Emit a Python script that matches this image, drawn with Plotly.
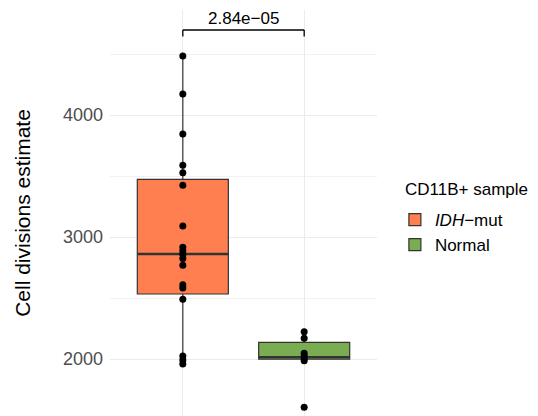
import plotly.graph_objects as go

# ---- data ----
groups = ["<i>IDH</i>\u2212mut", "Normal"]
group_pos = [1, 2]
colors = ["#FF7F50", "#7AAD52"]
legend_title = "CD11B+ sample"

idh_points = [4484, 4172, 3844, 3588, 3527, 3424, 3090, 2916, 2888, 2858, 2825,
              2768, 2609, 2582, 2489, 2025, 1992, 1959]
normal_points = [2224, 2170, 2047, 2025, 2002, 1986, 1604]
points = [idh_points, normal_points]

q1 = [2533, 1998]
median = [2861, 2014]
q3 = [3473, 2137]
lowerfence = [1959, 1986]
upperfence = [4484, 2224]

p_label = "2.84e\u221205"
bracket_y = 4697
bracket_tick = 4643

y_ticks = [2000, 3000, 4000]
box_width = 0.75

fig = go.Figure()

for i in range(2):
    fig.add_trace(go.Box(
        x=[group_pos[i]], q1=[q1[i]], median=[median[i]], q3=[q3[i]],
        lowerfence=[lowerfence[i]], upperfence=[upperfence[i]],
        name=groups[i], fillcolor=colors[i],
        line=dict(color="#333333", width=1.2), whiskerwidth=0,
        width=box_width, boxpoints=False, showlegend=True,
        hoverinfo="skip",
    ))

for i in range(2):
    fig.add_trace(go.Scatter(
        x=[group_pos[i] - box_width / 2, group_pos[i] + box_width / 2],
        y=[median[i], median[i]], mode="lines",
        line=dict(color="#333333", width=2.6), showlegend=False, hoverinfo="skip",
    ))

for i in range(2):
    fig.add_trace(go.Scatter(
        x=[group_pos[i]] * len(points[i]), y=points[i], mode="markers",
        marker=dict(color="black", size=7), showlegend=False, hoverinfo="skip",
    ))

# significance bracket
fig.add_shape(type="line", xref="x", yref="y", x0=group_pos[0], x1=group_pos[1],
              y0=bracket_y, y1=bracket_y, line=dict(color="black", width=1.3))
for gp in group_pos:
    fig.add_shape(type="line", xref="x", yref="y", x0=gp, x1=gp,
                  y0=bracket_tick, y1=bracket_y, line=dict(color="black", width=1.3))
fig.add_annotation(x=(group_pos[0] + group_pos[1]) / 2, y=bracket_y, xref="x", yref="y",
                   text=p_label, showarrow=False, yanchor="bottom", yshift=0,
                   font=dict(size=17, color="black"))

# legend title as a separate text so its gap to the items matches
fig.add_annotation(x=1.097, y=0.557, xref="paper", yref="paper", text=legend_title,
                   showarrow=False, xanchor="left", yanchor="middle",
                   font=dict(size=17, color="black"))

# the page body has an 8px margin; margins below compensate for it
fig.update_layout(
    width=538, height=416,
    margin=dict(l=102, r=169, t=2, b=8),
    paper_bgcolor="white", plot_bgcolor="white",
    font=dict(family="Liberation Sans, Arial, sans-serif", color="black"),
    legend=dict(
        font=dict(size=17), x=1.067, xanchor="left", y=0.452, yanchor="middle",
        tracegroupgap=2,
    ),
    xaxis=dict(range=[0.4, 2.6], tickvals=group_pos, showticklabels=False,
               showgrid=True, gridcolor="#EBEBEB", gridwidth=1.2, zeroline=False,
               showline=False),
    yaxis=dict(range=[1533, 4861], tickvals=y_ticks, showgrid=True,
               gridcolor="#EBEBEB", gridwidth=1.2, zeroline=False, showline=False,
               tickfont=dict(size=18, color="#4D4D4D"), ticks="", ticklabelstandoff=6,
               minor=dict(dtick=500, tick0=0, showgrid=True, gridcolor="#F2F2F2", gridwidth=1),
               title=dict(text="Cell divisions estimate", font=dict(size=21), standoff=26)),
)

fig.write_html("out.html")
